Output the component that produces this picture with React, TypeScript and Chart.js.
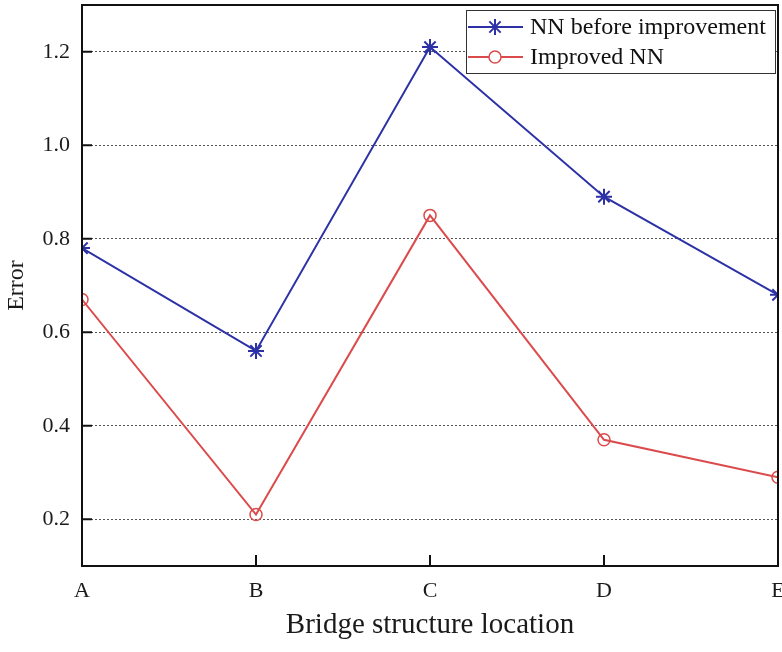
import React, { useEffect, useRef } from "react";
import { Chart, registerables } from "chart.js";

Chart.register(...registerables);

const categories = ["A", "B", "C", "D", "E"];
const beforeValues = [0.78, 0.56, 1.21, 0.89, 0.68];
const improvedValues = [0.67, 0.21, 0.85, 0.37, 0.29];
const yLabeledTicks = [0.2, 0.4, 0.6, 0.8, 1.0, 1.2];
const seriesNames = ["NN before improvement", "Improved NN"];

const BLUE = "#2c31a6";
const RED = "#dc4b4c";
const FONT = "'Liberation Serif', 'Times New Roman', serif";

function drawStar(ctx: CanvasRenderingContext2D, x: number, y: number, r: number) {
  ctx.beginPath();
  for (let k = 0; k < 4; k++) {
    const a = (Math.PI / 4) * k;
    ctx.moveTo(x - Math.cos(a) * r, y - Math.sin(a) * r);
    ctx.lineTo(x + Math.cos(a) * r, y + Math.sin(a) * r);
  }
  ctx.stroke();
}

const framePlugin = {
  id: "framePlugin",
  afterDatasetsDraw(chart: any) {
    const { ctx, chartArea } = chart;
    const ys = chart.scales.y;
    const xs = chart.scales.x;
    ctx.save();
    ctx.strokeStyle = "#111";
    ctx.lineWidth = 2;
    ctx.setLineDash([]);
    ctx.strokeRect(chartArea.left, chartArea.top, chartArea.right - chartArea.left, chartArea.bottom - chartArea.top);
    ys.ticks.forEach((t: any) => {
      const v = Math.round(t.value * 10) / 10;
      if (v <= ys.min + 1e-6 || v >= ys.max - 1e-6) return;
      const isMajor = yLabeledTicks.some((m) => Math.abs(m - v) < 1e-6);
      const py = ys.getPixelForValue(v);
      ctx.beginPath();
      ctx.moveTo(chartArea.left, py);
      ctx.lineTo(chartArea.left + (isMajor ? 10 : 6), py);
      ctx.stroke();
    });
    for (let i = 1; i < categories.length - 1; i++) {
      const px = xs.getPixelForValue(i);
      ctx.beginPath();
      ctx.moveTo(px, chartArea.bottom);
      ctx.lineTo(px, chartArea.bottom - 11);
      ctx.stroke();
    }
    ctx.restore();
  },
  afterDraw(chart: any) {
    const { ctx } = chart;
    ctx.save();
    ctx.setLineDash([]);
    ctx.strokeStyle = "#333";
    ctx.lineWidth = 1;
    ctx.fillStyle = "#fff";
    ctx.fillRect(466, 10, 309, 63);
    ctx.strokeRect(466.5, 10.5, 309, 63);
    const rows = [27, 57];
    const colors = [BLUE, RED];
    rows.forEach((ry, i) => {
      ctx.strokeStyle = colors[i];
      ctx.lineWidth = 2;
      ctx.beginPath();
      ctx.moveTo(468, ry);
      ctx.lineTo(523, ry);
      ctx.stroke();
      if (i === 0) {
        drawStar(ctx, 495, ry, 8);
      } else {
        ctx.lineWidth = 1.5;
        ctx.fillStyle = "#fff";
        ctx.beginPath();
        ctx.arc(495, ry, 6, 0, Math.PI * 2);
        ctx.fill();
        ctx.stroke();
      }
      ctx.fillStyle = "#111";
      ctx.font = `24px ${FONT}`;
      ctx.textBaseline = "middle";
      ctx.textAlign = "left";
      ctx.fillText(seriesNames[i], 530, ry + 1);
    });
    ctx.restore();
  },
};

export default function App() {
  const ref = useRef<HTMLCanvasElement | null>(null);

  useEffect(() => {
    if (!ref.current) return;
    const chart = new Chart(ref.current, {
      type: "line",
      data: {
        labels: categories,
        datasets: [
          {
            label: seriesNames[0],
            data: beforeValues,
            borderColor: BLUE,
            backgroundColor: BLUE,
            borderWidth: 2,
            pointStyle: "star",
            pointRadius: 8,
            pointBorderWidth: 2,
            pointBorderColor: BLUE,
            tension: 0,
            clip: 0,
          },
          {
            label: seriesNames[1],
            data: improvedValues,
            borderColor: RED,
            backgroundColor: "rgba(0,0,0,0)",
            borderWidth: 2,
            pointStyle: "circle",
            pointRadius: 6,
            pointBorderWidth: 1.5,
            pointBorderColor: RED,
            pointBackgroundColor: "rgba(0,0,0,0)",
            tension: 0,
            clip: 0,
          },
        ],
      },
      options: {
        animation: false,
        responsive: false,
        maintainAspectRatio: false,
        layout: { autoPadding: false, padding: { top: 5, right: 4, bottom: 0, left: 0 } },
        plugins: {
          legend: { display: false },
          tooltip: { enabled: false },
        },
        scales: {
          x: {
            type: "category",
            offset: false,
            grid: { display: false, drawTicks: false },
            border: { display: true, color: "#111", width: 2 },
            ticks: {
              color: "#1a1a1a",
              font: { family: FONT, size: 22 },
              padding: 12,
              maxRotation: 0,
              autoSkip: false,
            },
            title: {
              display: true,
              text: "Bridge structure location",
              color: "#1a1a1a",
              font: { family: FONT, size: 29 },
              padding: { top: 4, bottom: 9 },
            },
            afterFit: (s: any) => {
              s.height = 86;
              s.paddingLeft = 0;
              s.paddingRight = 0;
            },
          },
          y: {
            min: 0.1,
            max: 1.3,
            grid: {
              drawTicks: false,
              color: "#555",
              lineWidth: 1,
            },
            border: { display: true, color: "#111", width: 2, dash: [2, 2] },
            ticks: {
              stepSize: 0.1,
              color: "#1a1a1a",
              font: { family: FONT, size: 22 },
              padding: 12,
              callback: (val: any) => {
                const v = Math.round(Number(val) * 10) / 10;
                return yLabeledTicks.some((m) => Math.abs(m - v) < 1e-6) ? v.toFixed(1) : null;
              },
            },
            title: {
              display: true,
              text: "Error",
              color: "#1a1a1a",
              font: { family: FONT, size: 24 },
              padding: { top: 2, bottom: 4 },
            },
            afterFit: (s: any) => {
              s.width = 82;
              s.paddingTop = 0;
              s.paddingBottom = 0;
            },
          },
        },
      },
      plugins: [framePlugin],
    } as any);
    return () => chart.destroy();
  }, []);

  return (
    <div style={{ position: "fixed", left: 0, top: 0, width: 782, height: 652, background: "#fff" }}>
      <canvas ref={ref} width={782} height={652} style={{ width: 782, height: 652 }} />
    </div>
  );
}
